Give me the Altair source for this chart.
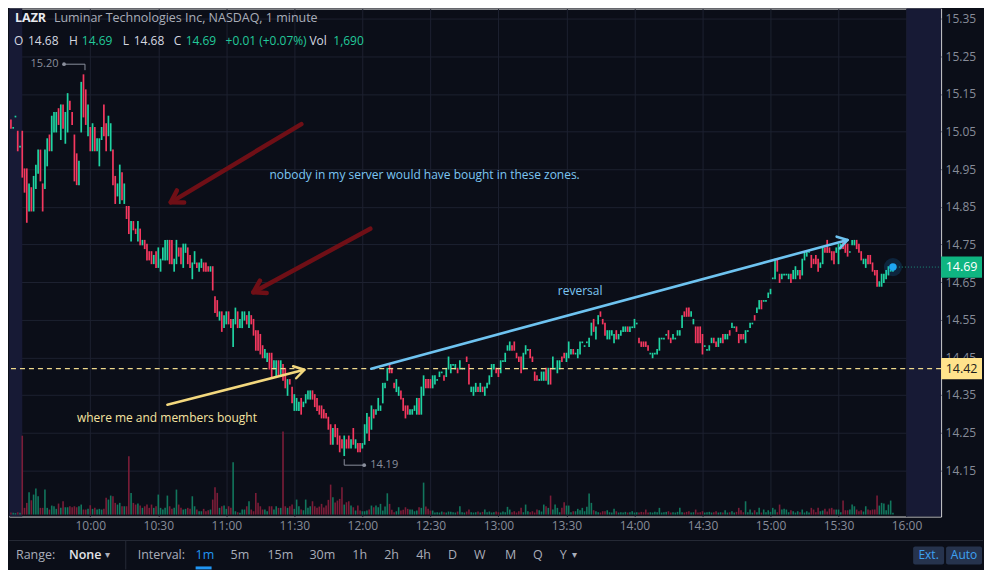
import math
import altair as alt
import pandas as pd

# ---------------- values ----------------
SESSION_DAY = "2021-06-01"
SYMBOL = "LAZR"
DESCRIPTION = "Luminar Technologies Inc, NASDAQ, 1 minute"

pre_times = ["09:25", "09:26", "09:27", "09:28", "09:29"]
pre_open = [15.08, 15.06, 15.09, 15.05, 15.01]
pre_close = [15.06, 15.06, 15.09, 15.00, 15.01]
pre_volume_k = [2.0, 1.7, 1.5, 2.3, 1.7]

# regular session, one candle per minute from 09:30
opens = [
    15.05, 14.95, 14.95, 14.84, 14.90, 14.84, 14.90, 14.94, 15.00, 14.91,
    14.90, 14.96, 15.04, 15.00, 15.05, 15.05, 15.11, 15.03, 15.12, 15.02,
    15.05, 15.13, 15.10, 15.04, 14.99, 14.91, 15.05, 15.20, 15.16, 15.04,
    15.06, 15.00, 15.06, 15.00, 14.96, 15.03, 15.12, 15.07, 15.04, 15.00,
    15.00, 14.93, 14.88, 14.86, 14.94, 14.86, 14.85, 14.85, 14.76, 14.81,
    14.79, 14.76, 14.79, 14.75, 14.76, 14.75, 14.73, 14.73, 14.70, 14.73,
    14.69, 14.68, 14.71, 14.71, 14.71, 14.76, 14.76, 14.68, 14.70, 14.74,
    14.74, 14.69, 14.73, 14.74, 14.72, 14.66, 14.70, 14.70, 14.68, 14.69,
    14.70, 14.70, 14.69, 14.68, 14.69, 14.61, 14.60, 14.55, 14.57, 14.53,
    14.54, 14.57, 14.55, 14.48, 14.54, 14.57, 14.53, 14.53, 14.55, 14.56,
    14.53, 14.56, 14.55, 14.52, 14.52, 14.51, 14.48, 14.45, 14.44, 14.46,
    14.46, 14.42, 14.40, 14.44, 14.40, 14.43, 14.42, 14.35, 14.39, 14.37,
    14.31, 14.31, 14.31, 14.34, 14.32, 14.33, 14.34, 14.34, 14.36, 14.35,
    14.34, 14.32, 14.32, 14.31, 14.30, 14.29, 14.27, 14.22, 14.27, 14.26,
    14.24, 14.23, 14.19, 14.23, 14.24, 14.21, 14.26, 14.21, 14.22, 14.22,
    14.21, 14.22, 14.25, 14.29, 14.26, 14.31, 14.30, 14.31, 14.31, 14.33,
    14.37, 14.39, 14.43, 14.42, 14.38, 14.36, 14.35, 14.36, 14.34, 14.32,
    14.32, 14.30, 14.30, 14.31, 14.30, 14.34, 14.30, 14.35, 14.39, 14.39,
    14.39, 14.37, 14.38, 14.39, 14.40, 14.41, 14.40, 14.40, 14.42, 14.41,
    14.43, 14.42, 14.42, 14.42, 14.42, 14.42, 14.45, 14.43, 14.36, 14.35,
    14.36, 14.37, 14.36, 14.37, 14.35, 14.37, 14.38, 14.40, 14.42, 14.42,
    14.42, 14.41, 14.44, 14.44, 14.47, 14.47, 14.48, 14.49, 14.46, 14.45,
    14.45, 14.42, 14.46, 14.47, 14.47, 14.45, 14.41, 14.40, 14.39, 14.39,
    14.39, 14.42, 14.38, 14.42, 14.42, 14.42, 14.41, 14.42, 14.45, 14.46,
    14.44, 14.45, 14.46, 14.47, 14.46, 14.45, 14.46, 14.49, 14.48, 14.49,
    14.48, 14.51, 14.55, 14.50, 14.54, 14.57, 14.55, 14.54, 14.50, 14.50,
    14.51, 14.49, 14.52, 14.50, 14.51, 14.52, 14.52, 14.53, 14.52, 14.53,
    14.53, 14.54, 14.50, 14.49, 14.49, 14.49, 14.48, 14.46, 14.45, 14.46,
    14.46, 14.47, 14.50, 14.50, 14.51, 14.52, 14.50, 14.50, 14.50, 14.51,
    14.51, 14.53, 14.57, 14.58, 14.58, 14.56, 14.54, 14.53, 14.53, 14.53,
    14.51, 14.48, 14.47, 14.47, 14.49, 14.50, 14.49, 14.48, 14.49, 14.51,
    14.50, 14.50, 14.52, 14.53, 14.53, 14.53, 14.51, 14.51, 14.51, 14.49,
    14.52, 14.53, 14.54, 14.56, 14.57, 14.58, 14.60, 14.60, 14.60, 14.61,
    14.62, 14.66, 14.66, 14.71, 14.67, 14.66, 14.67, 14.67, 14.66, 14.67,
    14.66, 14.66, 14.67, 14.68, 14.67, 14.71, 14.72, 14.73, 14.72, 14.71,
    14.72, 14.71, 14.69, 14.70, 14.74, 14.76, 14.74, 14.73, 14.73, 14.73,
    14.70, 14.74, 14.76, 14.75, 14.75, 14.73, 14.75, 14.75, 14.76, 14.75,
    14.73, 14.70, 14.69, 14.72, 14.72, 14.70, 14.68, 14.68, 14.64, 14.64,
    14.65, 14.66, 14.67, 14.68, 14.68,
]
closes = [
    14.93, 14.89, 14.81, 14.91, 14.84, 14.93, 14.96, 15.00, 14.92, 14.84,
    15.00, 15.03, 15.00, 15.09, 15.10, 15.10, 15.07, 15.12, 15.06, 15.10,
    15.15, 15.11, 15.07, 14.92, 14.91, 14.97, 15.18, 15.09, 15.07, 15.12,
    15.00, 15.07, 15.00, 15.03, 15.03, 15.06, 15.04, 15.00, 15.09, 15.07,
    14.91, 14.86, 14.91, 14.96, 14.87, 14.91, 14.82, 14.78, 14.81, 14.79,
    14.78, 14.81, 14.75, 14.76, 14.74, 14.71, 14.71, 14.70, 14.72, 14.69,
    14.74, 14.71, 14.74, 14.76, 14.76, 14.70, 14.70, 14.71, 14.76, 14.72,
    14.70, 14.75, 14.75, 14.70, 14.69, 14.70, 14.73, 14.69, 14.70, 14.71,
    14.68, 14.68, 14.68, 14.69, 14.63, 14.57, 14.56, 14.57, 14.52, 14.56,
    14.57, 14.54, 14.53, 14.55, 14.58, 14.53, 14.55, 14.57, 14.57, 14.54,
    14.57, 14.54, 14.51, 14.47, 14.47, 14.46, 14.45, 14.47, 14.46, 14.42,
    14.40, 14.44, 14.44, 14.40, 14.44, 14.39, 14.37, 14.39, 14.38, 14.33,
    14.35, 14.34, 14.33, 14.30, 14.33, 14.35, 14.36, 14.36, 14.34, 14.32,
    14.31, 14.30, 14.29, 14.29, 14.29, 14.26, 14.22, 14.26, 14.24, 14.22,
    14.20, 14.21, 14.24, 14.21, 14.21, 14.23, 14.22, 14.23, 14.20, 14.20,
    14.22, 14.27, 14.30, 14.23, 14.32, 14.29, 14.31, 14.34, 14.32, 14.38,
    14.38, 14.42, 14.41, 14.41, 14.37, 14.39, 14.37, 14.34, 14.31, 14.29,
    14.30, 14.31, 14.31, 14.32, 14.34, 14.30, 14.37, 14.40, 14.37, 14.37,
    14.37, 14.40, 14.40, 14.39, 14.41, 14.41, 14.39, 14.42, 14.45, 14.43,
    14.43, 14.43, 14.41, 14.44, 14.42, 14.42, 14.44, 14.38, 14.37, 14.37,
    14.38, 14.36, 14.38, 14.36, 14.37, 14.38, 14.40, 14.43, 14.43, 14.41,
    14.40, 14.44, 14.44, 14.46, 14.48, 14.49, 14.47, 14.47, 14.45, 14.44,
    14.41, 14.46, 14.48, 14.47, 14.45, 14.44, 14.39, 14.39, 14.39, 14.41,
    14.41, 14.39, 14.42, 14.38, 14.45, 14.42, 14.44, 14.44, 14.44, 14.45,
    14.46, 14.49, 14.47, 14.46, 14.46, 14.47, 14.49, 14.49, 14.48, 14.49,
    14.50, 14.54, 14.52, 14.53, 14.56, 14.56, 14.54, 14.51, 14.52, 14.52,
    14.52, 14.51, 14.50, 14.51, 14.52, 14.53, 14.53, 14.52, 14.53, 14.53,
    14.55, 14.54, 14.49, 14.48, 14.48, 14.48, 14.47, 14.46, 14.46, 14.46,
    14.47, 14.50, 14.50, 14.50, 14.51, 14.50, 14.49, 14.51, 14.50, 14.52,
    14.52, 14.56, 14.56, 14.56, 14.56, 14.57, 14.55, 14.49, 14.49, 14.49,
    14.46, 14.48, 14.47, 14.48, 14.50, 14.49, 14.48, 14.50, 14.50, 14.49,
    14.51, 14.51, 14.51, 14.54, 14.53, 14.52, 14.49, 14.50, 14.50, 14.52,
    14.52, 14.54, 14.54, 14.55, 14.58, 14.60, 14.58, 14.60, 14.60, 14.62,
    14.63, 14.66, 14.71, 14.68, 14.65, 14.67, 14.67, 14.67, 14.67, 14.65,
    14.68, 14.69, 14.68, 14.66, 14.71, 14.73, 14.73, 14.73, 14.69, 14.70,
    14.70, 14.68, 14.70, 14.74, 14.73, 14.73, 14.73, 14.71, 14.70, 14.74,
    14.75, 14.75, 14.74, 14.73, 14.72, 14.73, 14.76, 14.76, 14.74, 14.73,
    14.71, 14.71, 14.71, 14.70, 14.70, 14.68, 14.67, 14.64, 14.65, 14.67,
    14.67, 14.68, 14.69, 14.68, 14.69,
]
# volume per minute, thousands of shares
volume_k = [
    79, 6.7, 11.7, 22.3, 14.3, 20, 26, 18.3, 6.7, 6.7,
    25, 6.7, 5, 9, 8.3, 5.7, 11, 6.7, 13.3, 7.3,
    7.3, 8.3, 7.3, 8.3, 7.3, 8.3, 10, 5, 5, 5.7,
    9.3, 5.7, 6.7, 5, 5.7, 5, 5.7, 16.7, 15, 19,
    18.3, 11.7, 10, 11.7, 8.3, 8.3, 8.3, 58.3, 21.7, 11.7,
    10, 11, 9, 6.7, 8.3, 10, 6.7, 10, 6.7, 8.3,
    20, 6.7, 5, 6.7, 19, 8.3, 5.7, 6.7, 25, 10,
    6.7, 5, 5.7, 6.7, 5.7, 18.3, 8.3, 5, 3.3, 3.3,
    5.7, 3.3, 4.3, 5, 15, 27.3, 21.7, 6.7, 8.3, 9,
    5.7, 8.3, 6.7, 52.3, 3.3, 2.3, 1.7, 5, 5, 8.3,
    13.3, 5, 3.3, 21.7, 11.7, 8.3, 5, 5, 3.3, 8.3,
    8.3, 5, 8.3, 6.7, 6.7, 83.3, 8.3, 6.7, 8.3, 10,
    5.7, 15, 8.3, 5, 4.3, 15, 6.7, 8.3, 13.3, 8.3,
    6.7, 8, 10.7, 7, 9, 14.7, 30, 17.3, 12, 14,
    15.7, 27.3, 10, 12.3, 13.3, 9, 7.3, 4, 9, 4,
    3.3, 3.3, 4, 5, 9, 7.3, 9, 7.3, 10.7, 4,
    8, 21.3, 10.7, 4.7, 2.3, 3.3, 7.3, 4, 4.7, 7.3,
    5.7, 5, 5, 3.3, 4, 7.3, 6.7, 32, 8, 5.7,
    4, 4, 2, 2.3, 2, 3, 2.3, 2, 3, 2.7,
    2.3, 2, 3, 8.3, 2.3, 2, 3, 5, 2.3, 2,
    2.3, 3, 2, 2.7, 5, 2.3, 3, 2, 2.3, 3,
    2.3, 2, 3, 2.3, 7.7, 5, 2.3, 3.3, 2, 3.3,
    6.7, 2.3, 10, 3.3, 2.3, 3.3, 2, 5, 4.3, 3,
    10, 8.3, 6.7, 19, 5, 10, 6.7, 2.3, 6.7, 12.3,
    9, 9, 2.3, 3.3, 3.3, 5.7, 4.3, 6.7, 3.3, 7.7,
    21, 11.7, 4.3, 3.3, 2.3, 2, 3.3, 3.3, 4.3, 2.3,
    2, 5.7, 3.3, 2, 2.3, 2, 2.7, 2, 2.3, 3.3,
    2, 2.3, 2, 2.7, 2.3, 5, 2, 2.3, 2, 2.7,
    2.3, 6.7, 2, 2.3, 2.7, 3.3, 2, 2.3, 2, 2.7,
    6.7, 2.3, 2, 2.7, 3.3, 2, 2.3, 5, 2, 2.3,
    3.3, 2, 2.3, 2.7, 2, 2.3, 3.3, 2, 2.3, 2,
    4.3, 2, 2.3, 3.3, 2, 2.7, 6.7, 4.3, 2.3, 13.3,
    2.3, 5, 2, 4.3, 2.3, 6.7, 2, 5, 2.3, 4.3,
    2.7, 6.7, 5, 2.3, 10, 5, 5.7, 5, 2.3, 4.3,
    3.3, 2, 3.3, 2.3, 5, 2, 3.3, 2, 6.7, 5,
    2.3, 6.7, 3.3, 4, 5.7, 3, 6, 6.7, 5, 5,
    5, 2.3, 14, 4.3, 4.3, 5, 10, 8.3, 5, 3.3,
    4.3, 3, 8.3, 5, 4.3, 5, 5, 19, 9, 11.7,
    11, 4.3, 10, 14, 1.69,
]

entry_price = 14.42
price_ticks = [15.35, 15.25, 15.15, 15.05, 14.95, 14.85, 14.75,
               14.65, 14.55, 14.45, 14.35, 14.25, 14.15]
time_ticks = ["10:00", "10:30", "11:00", "11:30", "12:00", "12:30", "13:00",
              "13:30", "14:00", "14:30", "15:00", "15:30", "16:00"]
view_start, view_end = "09:24:09", "16:15:14"
premarket_end, afterhours_start = "09:30:00", "16:00:00"

# hand-drawn annotations (time, price)
red_tail_t = ["11:33:06", "12:03:30"]
red_tail_p = [15.070, 14.792]
red_tip_t = ["10:35:30", "11:11:54"]
red_tip_p = [14.862, 14.623]
yellow_tail_t, yellow_tail_p = "10:34:00", 14.324
yellow_tip_t, yellow_tip_p = "11:34:24", 14.417
blue_tail_t, blue_tail_p = "12:03:54", 14.42
blue_tip_t, blue_tip_p = "15:34:00", 14.762
note_red = ("nobody in my server would have bought in these zones.", "11:19:00", 14.934)
note_blue = ("reversal", "13:26:12", 14.626)
note_yellow = ("where me and members bought", "09:54:06", 14.290)

# ---------------- styling ----------------
FONT = "Open Sans"
BG = "#0b0e18"
GRID = "#1d2130"
SHADE = "#171a35"
UP, DOWN = "#1fd3a2", "#f5385f"
VUP, VDOWN = "#12765d", "#7b1d38"
AXIS_TXT = "#878c99"
W, H = 934, 509
P_LO, P_HI = 14.027, 15.377


def iso(hms):
    if len(hms) == 5:
        hms = hms + ":00"
    return f"{SESSION_DAY}T{hms}Z"


def dt(hms):
    parts = [int(v) for v in (hms + ":00").split(":")[:3]]
    y, mo, d = [int(v) for v in SESSION_DAY.split("-")]
    return alt.DateTime(year=y, month=mo, date=d, hours=parts[0],
                        minutes=parts[1], seconds=parts[2], utc=True)


T0 = pd.Timestamp(f"{SESSION_DAY} {view_start}")
T1 = pd.Timestamp(f"{SESSION_DAY} {view_end}")


def to_px(hms, p):
    ts = pd.Timestamp(f"{SESSION_DAY} {hms}")
    return (ts - T0) / (T1 - T0) * W, (P_HI - p) / (P_HI - P_LO) * H


def head_angle(t_a, p_a, t_b, p_b):
    xa, ya = to_px(t_a, p_a)
    xb, yb = to_px(t_b, p_b)
    return math.degrees(math.atan2(yb - ya, xb - xa)) % 360


# ---------------- tables ----------------
n = min(len(opens), len(closes), len(volume_k))
start = pd.Timestamp(f"{SESSION_DAY} 09:30")
rows = []
for i in range(len(pre_times)):
    rows.append({"t": iso(pre_times[i]), "open": pre_open[i], "close": pre_close[i],
                 "vol": pre_volume_k[i]})
for i in range(n):
    ts = start + pd.Timedelta(minutes=i)
    rows.append({"t": iso(ts.strftime("%H:%M:%S")), "open": opens[i],
                 "close": closes[i], "vol": volume_k[i]})
candles = pd.DataFrame(rows)
candles["top"] = candles[["open", "close"]].max(axis=1)
candles["bot"] = candles[["open", "close"]].min(axis=1)

x_scale = alt.Scale(type="utc", domain=[dt(view_start), dt(view_end)], nice=False)
y_scale = alt.Scale(domain=[P_LO, P_HI], nice=False, zero=False)
x_axis = alt.Axis(values=[dt(t) for t in time_ticks],
                  labelExpr="utcFormat(datum.value, '%H:%M')",
                  grid=True, gridColor=GRID, gridWidth=1, ticks=False, tickSize=0,
                  domain=False, labelColor=AXIS_TXT, labelFontSize=12, labelFont=FONT,
                  labelPadding=4, labelFlush=False, labelOverlap=False, title=None)
y_axis = alt.Axis(orient="right", values=price_ticks, format=".2f", grid=True,
                  gridColor=GRID, gridWidth=1, ticks=False, tickSize=0, domain=False,
                  labelColor=AXIS_TXT, labelFontSize=12, labelFont=FONT, labelPadding=4,
                  labelFlush=False, labelOverlap=False, title=None)


def X(f):
    return alt.X(f, type="temporal", scale=x_scale, axis=x_axis)


def Y(f):
    return alt.Y(f, type="quantitative", scale=y_scale, axis=y_axis)


up_cond = "datum.close >= datum.open"

# session shading
shade_df = pd.DataFrame({"start": [iso(view_start), iso(afterhours_start)],
                         "end": [iso(premarket_end), iso(view_end)]})
shade = alt.Chart(shade_df).mark_rect(color=SHADE).encode(
    x=X("start"), x2="end", y=alt.value(0), y2=alt.value(H))

volume = alt.Chart(candles).mark_rule(strokeWidth=1.6).encode(
    x=X("t"),
    y=alt.Y("vol:Q", scale=alt.Scale(domain=[-2, 507], nice=False, zero=False), axis=None),
    y2=alt.datum(0),
    color=alt.condition(up_cond, alt.value(VUP), alt.value(VDOWN)),
)

bodies = alt.Chart(candles).mark_rule(strokeWidth=1.7, strokeCap="square").encode(
    x=X("t"), y=Y("open"), y2="close",
    color=alt.condition(up_cond, alt.value(UP), alt.value(DOWN)),
)

entry_df = pd.DataFrame({"p": [entry_price]})
entry_line = alt.Chart(entry_df).mark_rule(color="#efd98c", strokeDash=[5, 4],
                                           strokeWidth=1.2).encode(y=Y("p"))

# high / low markers
imax = int(candles["top"].idxmax())
imin = int(candles["bot"].idxmin())
hi_df = pd.DataFrame({"t": [candles.loc[imax, "t"]], "p": [candles.loc[imax, "top"]]})
hi_df["lab"] = hi_df["p"].map(lambda v: f"{v:.2f}")
lo_df = pd.DataFrame({"t": [candles.loc[imin, "t"]], "p": [candles.loc[imin, "bot"]]})
lo_df["lab"] = lo_df["p"].map(lambda v: f"{v:.2f}")
MK = "#8a8f9c"
hi_marks = [
    alt.Chart(hi_df).mark_rule(color=MK, strokeWidth=1, xOffset=1.5, x2Offset=1.5,
                               yOffset=-5, y2Offset=-11).encode(x=X("t"), y=Y("p"), y2="p"),
    alt.Chart(hi_df).mark_rule(color=MK, strokeWidth=1, xOffset=1.5, x2Offset=-19.5,
                               yOffset=-11).encode(x=X("t"), x2="t", y=Y("p")),
    alt.Chart(hi_df).mark_point(color=MK, filled=True, size=14, opacity=1, xOffset=-19.5,
                                yOffset=-11).encode(x=X("t"), y=Y("p")),
    alt.Chart(hi_df).mark_text(color=MK, fontSize=11, font=FONT, align="right",
                               baseline="middle", dx=-25, dy=-11).encode(
        x=X("t"), y=Y("p"), text="lab:N"),
]
lo_marks = [
    alt.Chart(lo_df).mark_rule(color=MK, strokeWidth=1, yOffset=4, y2Offset=10).encode(
        x=X("t"), y=Y("p"), y2="p"),
    alt.Chart(lo_df).mark_rule(color=MK, strokeWidth=1, x2Offset=20, yOffset=10).encode(
        x=X("t"), x2="t", y=Y("p")),
    alt.Chart(lo_df).mark_point(color=MK, filled=True, size=14, opacity=1, xOffset=20,
                                yOffset=10).encode(x=X("t"), y=Y("p")),
    alt.Chart(lo_df).mark_text(color=MK, fontSize=11, font=FONT, align="left",
                               baseline="middle", dx=26, dy=10).encode(
        x=X("t"), y=Y("p"), text="lab:N"),
]

# arrows
HEAD = "M -1 -0.62 L 0 0 L -1 0.62"


def arrow(t_a, p_a, t_b, p_b, color, width, head_size):
    df = pd.DataFrame({"t": [iso(t_a)], "p": [p_a], "t2": [iso(t_b)], "p2": [p_b],
                       "ang": [head_angle(t_a, p_a, t_b, p_b)]})
    shaft = alt.Chart(df).mark_rule(color=color, strokeWidth=width, strokeCap="round").encode(
        x=X("t"), y=Y("p"), x2="t2", y2="p2")
    head = alt.Chart(df).mark_point(shape=HEAD, filled=False, stroke=color, strokeWidth=width,
                                    size=head_size, opacity=1, strokeCap="round",
                                    strokeJoin="round").encode(
        x=X("t2"), y=Y("p2"), angle=alt.Angle("ang:Q", scale=None))
    return [shaft, head]


arrows = []
for i in range(len(red_tail_t)):
    arrows += arrow(red_tail_t[i], red_tail_p[i], red_tip_t[i], red_tip_p[i],
                    "#6f0f16", 4.5, 520)
arrows += arrow(yellow_tail_t, yellow_tail_p, yellow_tip_t, yellow_tip_p, "#f3d87e", 2.5, 400)
arrows += arrow(blue_tail_t, blue_tail_p, blue_tip_t, blue_tip_p, "#6ec3f0", 2.6, 380)


def note(spec, color, size):
    s, t, p = spec
    df = pd.DataFrame({"s": [s], "t": [iso(t)], "p": [p]})
    return alt.Chart(df).mark_text(align="left", baseline="middle", color=color,
                                   fontSize=size, font=FONT).encode(
        x=X("t"), y=Y("p"), text="s:N")


notes = [note(note_red, "#7cc6f2", 12), note(note_blue, "#7cc6f2", 12),
         note(note_yellow, "#f6e3a0", 12)]

# last price
last = candles.iloc[-1]
last_df = pd.DataFrame({"t": [last["t"]], "p": [last["close"]], "t2": [iso(view_end)]})
last_df["lab"] = last_df["p"].map(lambda v: f"{v:.2f}")
last_marks = [
    alt.Chart(last_df).mark_rule(color="#1a8f79", strokeDash=[1, 2], strokeWidth=1).encode(
        x=X("t"), x2="t2", y=Y("p")),
    alt.Chart(last_df).mark_point(color="#1e90e8", filled=True, size=330, opacity=0.18).encode(
        x=X("t"), y=Y("p")),
    alt.Chart(last_df).mark_point(color="#1ea7f5", filled=True, size=55, opacity=1).encode(
        x=X("t"), y=Y("p")),
]

BOX = "M -1 -0.52 L 1 -0.52 L 1 0.52 L -1 0.52 Z"
box_x = W + 20.5


def price_box(p, fill, txt_color):
    df = pd.DataFrame({"p": [p], "lab": [f"{p:.2f}"]})
    return [
        alt.Chart(df).mark_point(shape=BOX, filled=True, color=fill, size=41 * 41,
                                 opacity=1).encode(x=alt.value(box_x), y=Y("p")),
        alt.Chart(df).mark_text(color=txt_color, fontSize=12.5, font=FONT, align="center",
                                baseline="middle").encode(
            x=alt.value(box_x), y=Y("p"), text="lab:N"),
    ]


boxes = price_box(entry_price, "#ffe38c", "#1b1b1b") + \
    price_box(float(last["close"]), "#0fb581", "#ffffff")

# header
prev_close = float(candles.iloc[-2]["close"])
o_v, c_v = float(last["open"]), float(last["close"])
h_v, l_v = max(o_v, c_v), min(o_v, c_v)
chg = c_v - prev_close
pct = chg / prev_close * 100
vol_shares = int(round(float(last["vol"]) * 1000))


def txt(s, x, y, color, size=12, weight="normal", align="left"):
    df = pd.DataFrame({"s": [s]})
    return alt.Chart(df).mark_text(align=align, baseline="middle", color=color, fontSize=size,
                                   fontWeight=weight, font=FONT).encode(
        x=alt.value(x), y=alt.value(y), text="s:N")


WHITE = "#d6d9e0"
GREY = "#a9adb8"
GREEN_T = "#22c99a"
HS = 12
header = [
    txt(SYMBOL, 6, 9, "#e8eaef", 12.5, "bold"),
    txt(DESCRIPTION, 45, 9, GREY, 12.5),
    txt("O", 5, 32, WHITE, HS), txt(f"{o_v:.2f}", 19, 32, WHITE, HS),
    txt("H", 60, 32, WHITE, HS), txt(f"{h_v:.2f}", 73, 32, GREEN_T, HS),
    txt("L", 114, 32, WHITE, HS), txt(f"{l_v:.2f}", 125, 32, WHITE, HS),
    txt("C", 165, 32, WHITE, HS), txt(f"{c_v:.2f}", 177, 32, GREEN_T, HS),
    txt(f"{chg:+.2f} ({pct:+.2f}%)", 217, 32, GREEN_T, HS),
    txt("Vol", 301, 32, WHITE, HS), txt(f"{vol_shares:,}", 325, 32, GREEN_T, HS),
]

# bottom toolbar
TB_Y = 548
sep_line = alt.Chart(pd.DataFrame({"a": [0]})).mark_rule(color="#262a36", strokeWidth=1).encode(
    x=alt.value(0), x2=alt.value(976), y=alt.value(533))
sep_v = alt.Chart(pd.DataFrame({"a": [0]})).mark_rule(color="#262a36", strokeWidth=1).encode(
    x=alt.value(117), y=alt.value(533), y2=alt.value(562))
underline = alt.Chart(pd.DataFrame({"a": [0]})).mark_rect(color="#2196f3").encode(
    x=alt.value(187), x2=alt.value(203), y=alt.value(559), y2=alt.value(562))
btn1 = alt.Chart(pd.DataFrame({"a": [0]})).mark_rect(color="#26334d", cornerRadius=2).encode(
    x=alt.value(906), x2=alt.value(937), y=alt.value(539), y2=alt.value(557))
btn2 = alt.Chart(pd.DataFrame({"a": [0]})).mark_rect(color="#26334d", cornerRadius=2).encode(
    x=alt.value(939), x2=alt.value(975), y=alt.value(539), y2=alt.value(557))
intervals = [("1m", 187), ("5m", 222), ("15m", 259), ("30m", 301), ("1h", 344), ("2h", 376),
             ("4h", 408), ("D", 440), ("W", 466), ("M", 497), ("Q", 525), ("Y", 552)]
toolbar = [sep_line, sep_v, underline, btn1, btn2,
           txt("Range:", 7, TB_Y, GREY, 12.5), txt("None", 60, TB_Y, "#e3e5ea", 12.5, 600),
           txt("▾", 99, TB_Y, GREY, 10, "normal", "center"),
           txt("Interval:", 129, TB_Y, GREY, 12.5)]
for lab, xx in intervals:
    toolbar.append(txt(lab, xx, TB_Y, "#2196f3" if lab == "1m" else GREY, 12.5))
toolbar += [txt("▾", 567, TB_Y, GREY, 10, "normal", "center"),
            txt("Ext.", 921.5, TB_Y, "#3ea2f2", 12, "normal", "center"),
            txt("Auto", 957, TB_Y, "#3ea2f2", 12, "normal", "center")]

price_group = alt.layer(bodies, entry_line, *hi_marks, *lo_marks, *arrows, *notes,
                        *last_marks, *boxes)

chart = alt.layer(shade, volume, price_group, *header, *toolbar).resolve_scale(
    y="independent"
).properties(width=W, height=H, padding=0, background=BG).configure_view(
    stroke=None
).configure(font=FONT)

chart.save("out.html", embed_options={"renderer": "svg", "actions": False})
